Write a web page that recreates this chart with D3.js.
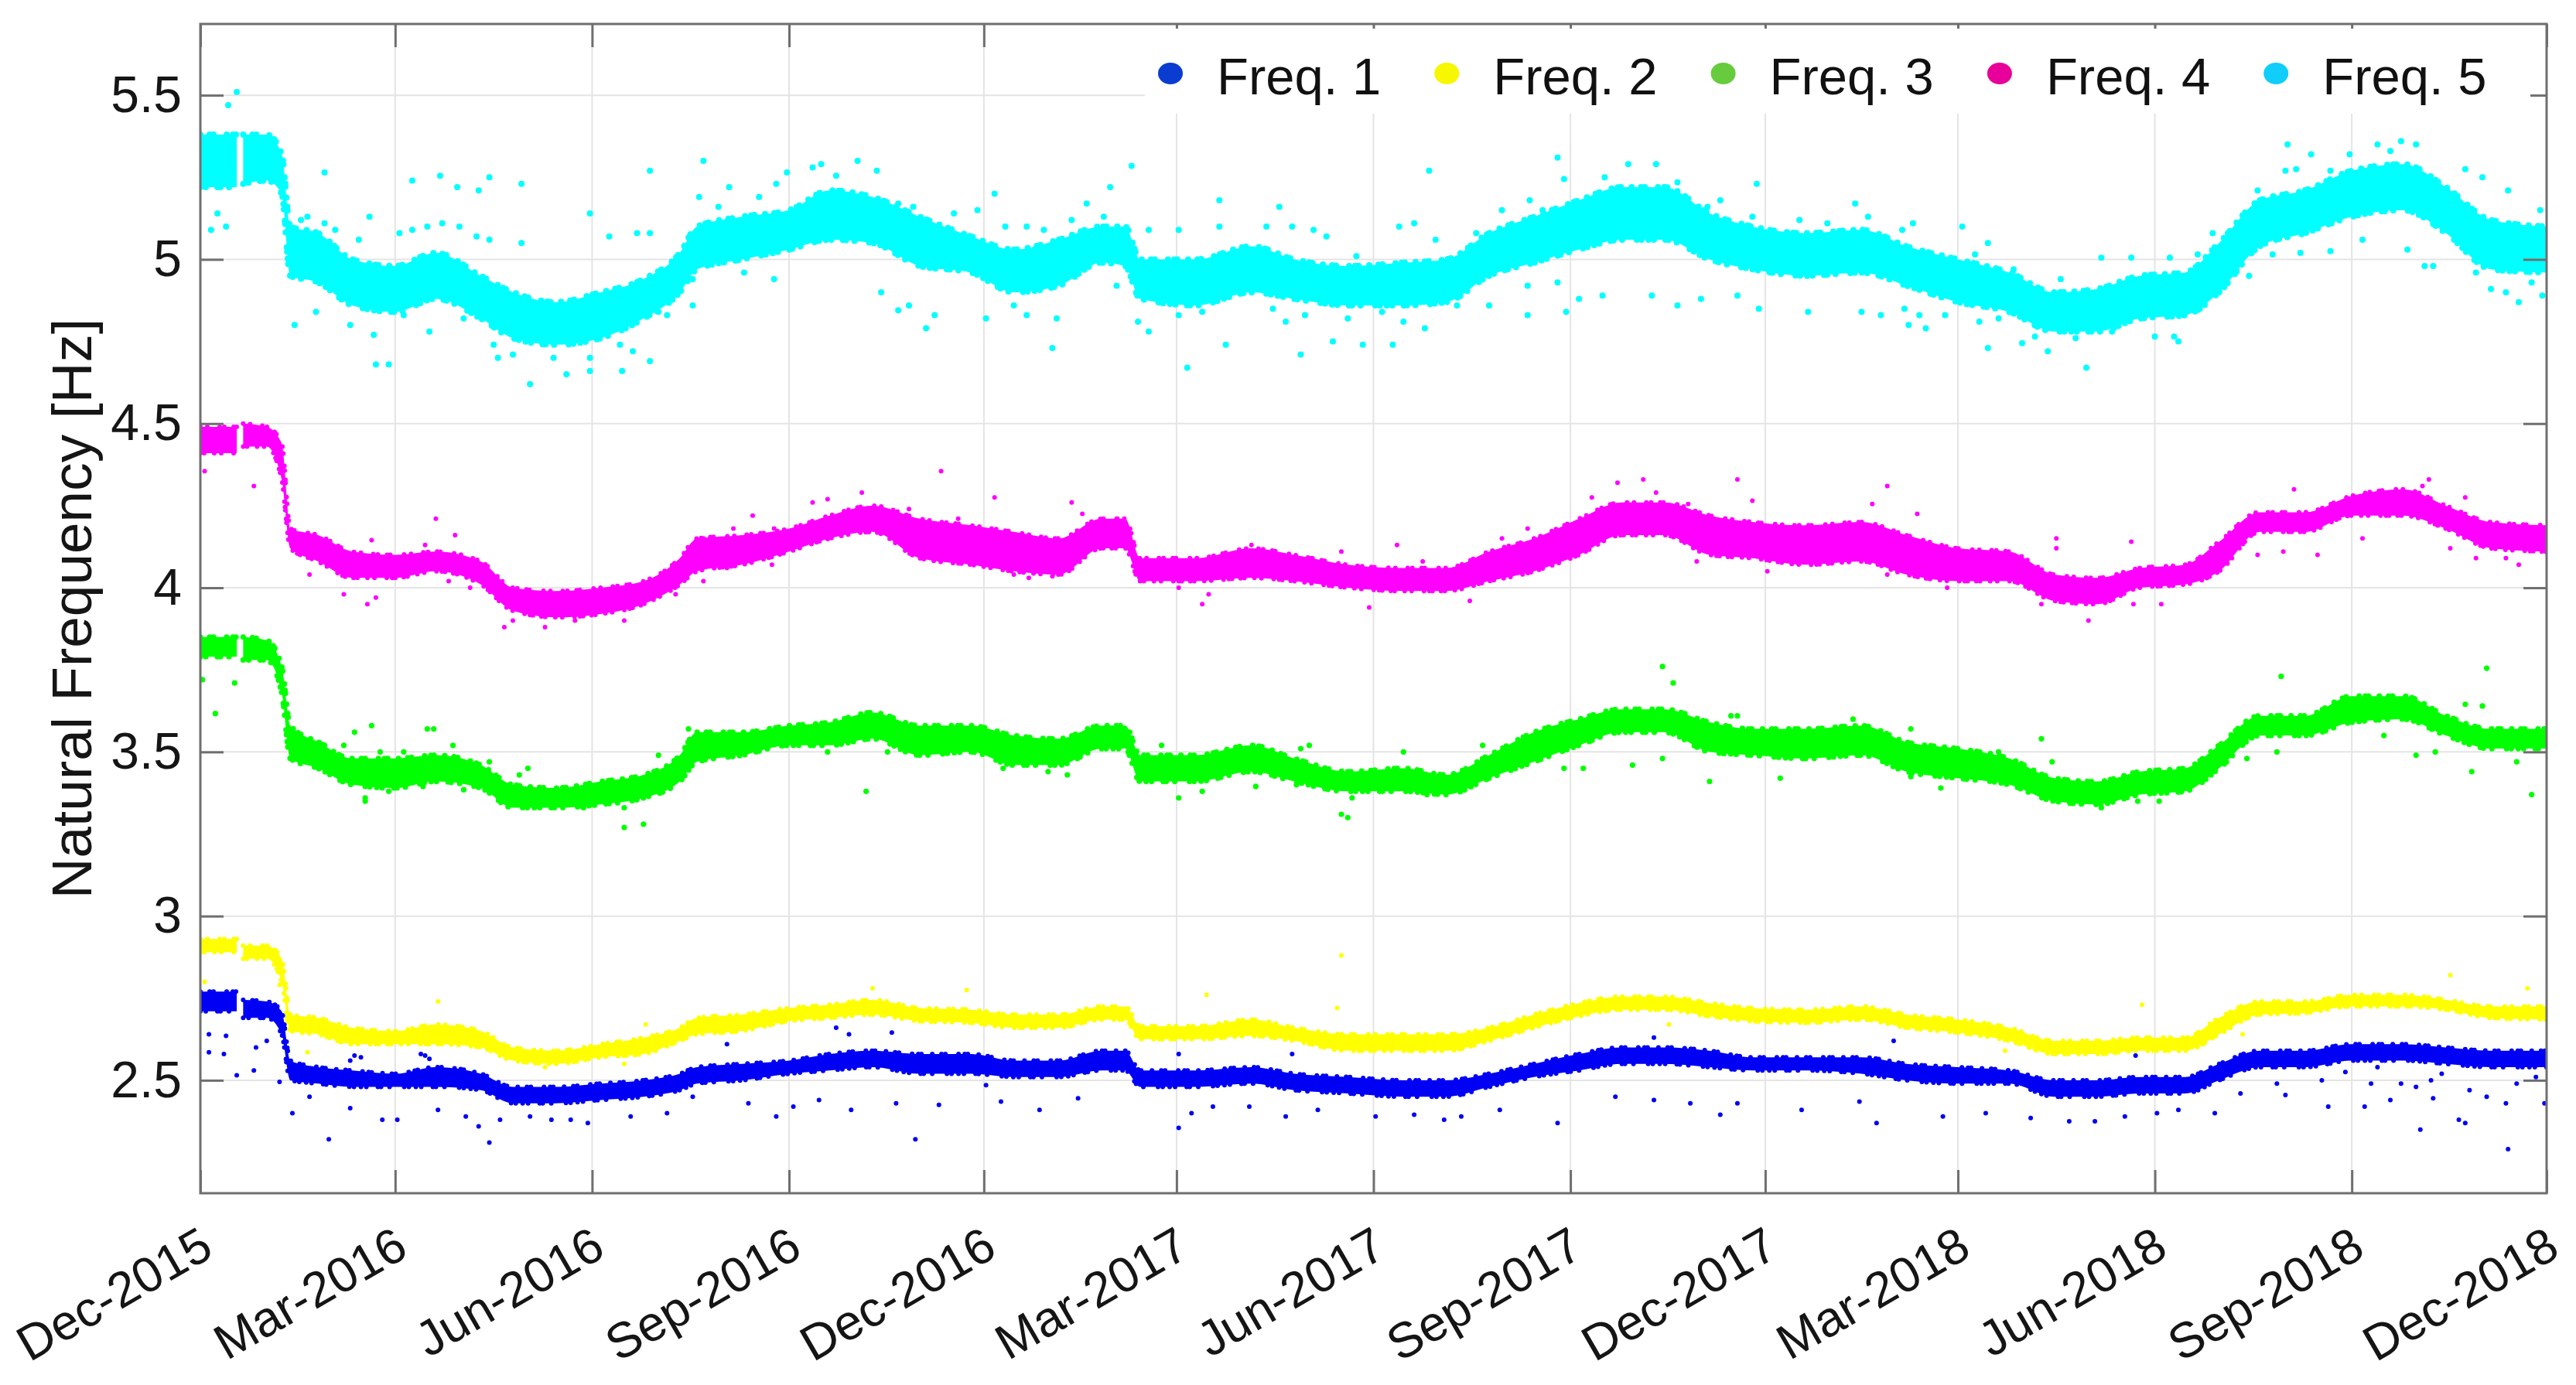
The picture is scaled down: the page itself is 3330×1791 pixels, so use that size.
<!DOCTYPE html>
<html>
<head>
<meta charset="utf-8">
<script src="https://d3js.org/d3.v7.min.js"></script>
<style>
  body { margin: 0; background: #fff; }
  text { font-family: "Liberation Sans", Arial, sans-serif; }
</style>
</head>
<body>
<div id="chart"></div>
<script>
// Step 1: data
//= ================================
var seriesNames = ["Freq. 1", "Freq. 2", "Freq. 3", "Freq. 4", "Freq. 5"];
var xTickDates = ["2015-12-01", "2016-03-01", "2016-06-01", "2016-09-01", "2016-12-01", "2017-03-01", "2017-06-01",
  "2017-09-01", "2017-12-01", "2018-03-01", "2018-06-01", "2018-09-01", "2018-12-01"];
var yTicks = [2.5, 3, 3.5, 4, 4.5, 5, 5.5];

// dates at which the lower / upper edge of each dense band was read (null = no data)
var sampleDates = [
  "2015-12-01", "2015-12-18", "2015-12-19", "2015-12-21", "2016-01-01", "2016-01-08", "2016-01-12", "2016-01-25", "2016-02-10", "2016-03-01",
  "2016-03-20", "2016-04-10", "2016-04-25", "2016-05-15", "2016-06-05", "2016-06-25", "2016-07-12", "2016-07-20", "2016-08-10", "2016-09-01",
  "2016-09-20", "2016-10-10", "2016-11-01", "2016-11-25", "2016-12-15", "2017-01-05", "2017-01-25", "2017-02-05", "2017-02-12", "2017-03-10",
  "2017-04-05", "2017-04-25", "2017-05-20", "2017-06-15", "2017-07-05", "2017-07-25", "2017-08-15", "2017-09-05", "2017-09-25", "2017-10-15",
  "2017-11-05", "2017-11-25", "2017-12-20", "2018-01-15", "2018-02-05", "2018-03-01", "2018-03-25", "2018-04-15", "2018-05-05", "2018-05-25",
  "2018-06-15", "2018-07-01", "2018-07-20", "2018-08-10", "2018-09-01", "2018-09-25", "2018-10-15", "2018-11-05", "2018-12-01"
];

var f1Lo = [2.71, 2.71, null, 2.69, 2.69, 2.64, 2.50, 2.49, 2.48, 2.48,
  2.48, 2.47, 2.43, 2.43, 2.44, 2.45, 2.47, 2.49, 2.50, 2.52,
  2.53, 2.54, 2.52, 2.52, 2.51, 2.51, 2.53, 2.53, 2.48, 2.48,
  2.49, 2.47, 2.46, 2.45, 2.45, 2.48, 2.51, 2.53, 2.55, 2.55,
  2.54, 2.53, 2.53, 2.52, 2.50, 2.49, 2.49, 2.45, 2.45, 2.46,
  2.46, 2.50, 2.54, 2.54, 2.56, 2.56, 2.55, 2.54, 2.54];
var f1Hi = [2.77, 2.77, null, 2.745, 2.74, 2.71, 2.56, 2.54, 2.53, 2.52,
  2.54, 2.52, 2.48, 2.48, 2.49, 2.50, 2.52, 2.54, 2.55, 2.56,
  2.58, 2.59, 2.58, 2.58, 2.56, 2.56, 2.59, 2.59, 2.53, 2.53,
  2.54, 2.52, 2.51, 2.50, 2.50, 2.52, 2.55, 2.58, 2.60, 2.60,
  2.59, 2.57, 2.57, 2.57, 2.55, 2.54, 2.53, 2.50, 2.50, 2.51,
  2.51, 2.55, 2.59, 2.59, 2.61, 2.61, 2.60, 2.59, 2.59];

var f2Lo = [2.89, 2.89, null, 2.87, 2.87, 2.80, 2.65, 2.64, 2.61, 2.61,
  2.61, 2.60, 2.56, 2.55, 2.57, 2.58, 2.62, 2.64, 2.65, 2.68,
  2.69, 2.70, 2.68, 2.675, 2.66, 2.66, 2.685, 2.685, 2.625, 2.625,
  2.635, 2.62, 2.59, 2.59, 2.59, 2.62, 2.66, 2.695, 2.715, 2.715,
  2.695, 2.68, 2.675, 2.685, 2.66, 2.645, 2.62, 2.58, 2.58, 2.59,
  2.59, 2.64, 2.70, 2.705, 2.725, 2.725, 2.715, 2.69, 2.685];
var f2Hi = [2.93, 2.93, null, 2.91, 2.91, 2.87, 2.70, 2.69, 2.66, 2.65,
  2.67, 2.65, 2.60, 2.59, 2.61, 2.63, 2.66, 2.69, 2.70, 2.72,
  2.73, 2.745, 2.72, 2.715, 2.70, 2.70, 2.725, 2.725, 2.665, 2.665,
  2.685, 2.66, 2.64, 2.64, 2.64, 2.66, 2.70, 2.735, 2.755, 2.755,
  2.735, 2.72, 2.715, 2.725, 2.70, 2.685, 2.66, 2.62, 2.62, 2.63,
  2.63, 2.69, 2.74, 2.74, 2.76, 2.76, 2.745, 2.725, 2.725];

var f3Lo = [3.79, 3.79, null, 3.78, 3.78, 3.68, 3.48, 3.45, 3.40, 3.39,
  3.41, 3.39, 3.33, 3.33, 3.34, 3.36, 3.41, 3.47, 3.49, 3.52,
  3.52, 3.54, 3.49, 3.50, 3.46, 3.46, 3.51, 3.51, 3.41, 3.41,
  3.44, 3.41, 3.38, 3.38, 3.37, 3.42, 3.47, 3.52, 3.56, 3.56,
  3.50, 3.49, 3.48, 3.49, 3.44, 3.42, 3.40, 3.35, 3.34, 3.37,
  3.38, 3.45, 3.55, 3.55, 3.59, 3.60, 3.55, 3.51, 3.51];
var f3Hi = [3.85, 3.85, null, 3.85, 3.84, 3.76, 3.58, 3.53, 3.48, 3.48,
  3.49, 3.46, 3.40, 3.39, 3.41, 3.43, 3.49, 3.56, 3.56, 3.58,
  3.59, 3.62, 3.58, 3.58, 3.55, 3.54, 3.58, 3.58, 3.49, 3.49,
  3.52, 3.48, 3.44, 3.45, 3.43, 3.49, 3.56, 3.60, 3.63, 3.63,
  3.59, 3.57, 3.57, 3.58, 3.53, 3.51, 3.48, 3.42, 3.41, 3.44,
  3.45, 3.52, 3.61, 3.61, 3.67, 3.67, 3.61, 3.57, 3.57];

var f4Lo = [4.41, 4.41, null, 4.43, 4.43, 4.33, 4.12, 4.08, 4.03, 4.03,
  4.05, 4.01, 3.93, 3.91, 3.92, 3.95, 4.01, 4.05, 4.07, 4.11,
  4.15, 4.17, 4.09, 4.07, 4.05, 4.04, 4.12, 4.12, 4.02, 4.02,
  4.03, 4.02, 4.00, 3.99, 3.99, 4.02, 4.05, 4.10, 4.16, 4.16,
  4.10, 4.09, 4.07, 4.08, 4.04, 4.02, 4.02, 3.96, 3.95, 4.00,
  4.01, 4.05, 4.17, 4.17, 4.22, 4.22, 4.18, 4.12, 4.11];
var f4Hi = [4.49, 4.49, null, 4.50, 4.49, 4.44, 4.18, 4.16, 4.11, 4.10,
  4.11, 4.08, 4.00, 3.99, 4.00, 4.02, 4.09, 4.15, 4.16, 4.18,
  4.22, 4.25, 4.21, 4.19, 4.17, 4.15, 4.21, 4.21, 4.09, 4.09,
  4.12, 4.10, 4.07, 4.06, 4.06, 4.11, 4.15, 4.21, 4.26, 4.26,
  4.22, 4.20, 4.19, 4.20, 4.16, 4.12, 4.11, 4.04, 4.03, 4.06,
  4.07, 4.14, 4.23, 4.23, 4.28, 4.30, 4.25, 4.20, 4.19];

var f5Lo = [5.22, 5.22, null, 5.23, 5.24, 5.20, 4.95, 4.93, 4.86, 4.84,
  4.88, 4.82, 4.76, 4.74, 4.76, 4.82, 4.90, 4.97, 5.00, 5.03,
  5.06, 5.05, 4.98, 4.96, 4.90, 4.92, 4.99, 4.98, 4.88, 4.86,
  4.90, 4.88, 4.86, 4.86, 4.87, 4.95, 4.99, 5.03, 5.06, 5.06,
  5.00, 4.97, 4.95, 4.96, 4.92, 4.87, 4.84, 4.78, 4.78, 4.82,
  4.83, 4.90, 5.04, 5.08, 5.13, 5.15, 5.08, 4.97, 4.96];
var f5Hi = [5.38, 5.38, null, 5.38, 5.38, 5.32, 5.10, 5.08, 5.00, 4.98,
  5.02, 4.95, 4.90, 4.87, 4.90, 4.94, 5.02, 5.10, 5.13, 5.15,
  5.21, 5.19, 5.13, 5.07, 5.03, 5.06, 5.10, 5.10, 5.00, 5.00,
  5.04, 5.00, 4.98, 4.99, 5.00, 5.08, 5.13, 5.18, 5.22, 5.22,
  5.14, 5.10, 5.08, 5.09, 5.04, 5.00, 4.96, 4.90, 4.91, 4.95,
  4.96, 5.05, 5.18, 5.21, 5.27, 5.29, 5.22, 5.12, 5.10];

// scattered points away from the bands: [days after 1 Dec 2015, Hz]
var f1Pts = [[4, 2.64], [4, 2.585], [11, 2.58], [12, 2.635], [17, 2.515], [25, 2.53], [26, 2.60], [31, 2.62], [37, 2.495], [43, 2.40],
  [51, 2.45], [60, 2.32], [70, 2.415], [70, 2.56], [72, 2.575], [75, 2.57], [85, 2.38], [92, 2.38], [103, 2.58], [105, 2.575],
  [107, 2.565], [111, 2.41], [124, 2.39], [130, 2.36], [135, 2.31], [140, 2.38], [154, 2.39], [164, 2.38], [173, 2.38], [181, 2.37],
  [201, 2.39], [218, 2.40], [230, 2.45], [246, 2.61], [256, 2.43], [269, 2.39], [277, 2.42], [289, 2.44], [297, 2.66], [303, 2.64],
  [304, 2.41], [323, 2.645], [325, 2.43], [334, 2.32], [345, 2.425], [367, 2.485], [374, 2.435], [392, 2.41], [410, 2.445], [457, 2.355],
  [457, 2.58], [463, 2.40], [473, 2.42], [490, 2.42], [507, 2.39], [510, 2.58], [522, 2.41], [549, 2.39], [567, 2.395], [581, 2.38],
  [589, 2.39], [607, 2.41], [634, 2.37], [661, 2.45], [679, 2.44], [679, 2.63], [696, 2.43], [710, 2.395], [718, 2.43], [748, 2.41],
  [775, 2.435], [783, 2.37], [791, 2.62], [814, 2.39], [834, 2.40], [855, 2.385], [873, 2.375], [885, 2.375], [899, 2.39], [904, 2.575],
  [914, 2.40], [924, 2.41], [941, 2.40], [953, 2.46], [970, 2.49], [974, 2.455], [991, 2.50], [994, 2.42], [1002, 2.525], [1011, 2.42],
  [1014, 2.49], [1017, 2.54], [1023, 2.44], [1028, 2.49], [1035, 2.48], [1037, 2.35], [1042, 2.50], [1043, 2.445], [1047, 2.52], [1055, 2.38],
  [1058, 2.37], [1060, 2.47], [1068, 2.45], [1077, 2.43], [1078, 2.29], [1082, 2.49], [1091, 2.51], [1095, 2.43]];
var f2Pts = [[2, 2.80], [37, 2.79], [50, 2.585], [111, 2.74], [161, 2.54], [198, 2.55], [208, 2.67], [314, 2.78], [358, 2.775], [470, 2.76],
  [531, 2.72], [533, 2.88], [686, 2.67], [843, 2.59], [907, 2.73], [954, 2.64], [1051, 2.82], [1087, 2.78]];
var f3Pts = [[1, 3.72], [7, 3.617], [16, 3.71], [77, 3.35], [80, 3.58], [106, 3.57], [153, 3.45], [198, 3.27], [207, 3.28], [293, 3.50],
  [311, 3.38], [457, 3.36], [518, 3.52], [533, 3.31], [536, 3.30], [637, 3.45], [646, 3.45], [683, 3.76], [688, 3.71], [705, 3.41],
  [738, 3.42], [860, 3.54], [905, 3.35], [972, 3.73], [1061, 3.44], [1068, 3.755], [1089, 3.37],
  [58, 3.52], [67, 3.52], [72, 3.56], [84, 3.50], [95, 3.50], [109, 3.57], [118, 3.52], [135, 3.47], [149, 3.43], [179, 3.33],
  [198, 3.33], [214, 3.49], [228, 3.57], [88, 3.38], [77, 3.36], [104, 3.395], [123, 3.385], [321, 3.50], [375, 3.45], [396, 3.44],
  [405, 3.43], [449, 3.52], [468, 3.38], [493, 3.395], [512, 3.40], [514, 3.51], [538, 3.36], [562, 3.50], [573, 3.37], [599, 3.52],
  [669, 3.46], [683, 3.48], [715, 3.61], [718, 3.61], [772, 3.60], [799, 3.57], [799, 3.425], [813, 3.39], [840, 3.50], [865, 3.47],
  [888, 3.33], [915, 3.35], [956, 3.48], [970, 3.50], [1020, 3.55], [1035, 3.49], [1044, 3.50], [1058, 3.645], [1066, 3.64], [1082, 3.47]];
var f4Pts = [[2, 4.355], [25, 4.31], [78, 3.95], [80, 4.145], [110, 4.21], [119, 4.16], [142, 3.88], [161, 3.88], [222, 3.98], [258, 4.22],
  [309, 4.29], [346, 4.355], [371, 4.275], [387, 4.03], [407, 4.26], [468, 3.95], [546, 3.94], [559, 4.13], [593, 3.96], [674, 4.33],
  [718, 4.33], [788, 4.31], [867, 4.15], [867, 4.12], [882, 3.90], [902, 4.14], [978, 4.30], [1041, 4.33], [1083, 4.07],
  [51, 4.04], [67, 3.98], [82, 3.97], [105, 4.13], [116, 4.02], [126, 4.00], [146, 3.90], [175, 3.90], [198, 3.90], [235, 4.02],
  [246, 4.06], [267, 4.07], [235, 4.15], [249, 4.18], [268, 4.18], [286, 4.26], [293, 4.27], [331, 4.24], [354, 4.21], [380, 4.04],
  [398, 4.035], [412, 4.225], [428, 4.21], [457, 4.00], [471, 3.98], [491, 4.13], [519, 4.09], [533, 4.11], [571, 4.08], [608, 4.15],
  [620, 4.18], [650, 4.275], [662, 4.32], [680, 4.29], [695, 4.255], [725, 4.265], [781, 4.255], [802, 4.225], [699, 4.08], [732, 4.05],
  [788, 4.04], [816, 4.00], [860, 3.95], [903, 3.95], [916, 3.95], [961, 4.10], [973, 4.11], [989, 4.10], [1010, 4.15], [1051, 4.12],
  [1063, 4.09], [1077, 4.09], [1038, 4.31], [1058, 4.275]];
var f5Pts = [[5, 5.09], [8, 5.14], [12, 5.10], [13, 5.47], [17, 5.51], [44, 4.80], [54, 4.84], [58, 5.265], [79, 5.13], [82, 4.68],
  [88, 4.68], [99, 5.24], [112, 5.255], [120, 5.22], [130, 5.21], [135, 5.25], [139, 4.70], [150, 5.23], [154, 4.62], [171, 4.65],
  [182, 5.14], [182, 4.66], [197, 4.66], [210, 5.27], [210, 4.69], [230, 4.86], [235, 5.30], [290, 5.29], [307, 5.30], [339, 4.79],
  [371, 5.20], [398, 4.73], [425, 5.22], [435, 5.285], [443, 4.78], [461, 4.67], [476, 5.18], [479, 4.74], [504, 5.16], [514, 4.71],
  [543, 4.74], [557, 4.74], [572, 4.79], [574, 5.27], [620, 4.83], [634, 5.31], [638, 4.84], [667, 5.29], [690, 4.86], [727, 5.23],
  [773, 5.17], [798, 4.80], [806, 4.79], [835, 4.73], [863, 4.72], [881, 4.67], [924, 4.75], [957, 4.95], [975, 5.35], [986, 5.32],
  [1017, 5.35], [1028, 5.36], [1039, 4.98], [1078, 5.21], [1083, 4.87], [1094, 4.89],
  [47, 5.12], [50, 5.13], [58, 5.11], [63, 5.09], [74, 5.06], [93, 5.08], [99, 5.09], [106, 5.10], [113, 5.11], [121, 5.10],
  [129, 5.07], [135, 5.06], [150, 5.05], [191, 5.07], [204, 5.08], [210, 5.08], [233, 5.19], [242, 5.16], [247, 5.22], [261, 5.19],
  [269, 5.23], [274, 5.265], [70, 4.80], [81, 4.77], [95, 4.83], [107, 4.78], [123, 4.82], [137, 4.74], [146, 4.71], [165, 4.70],
  [182, 4.70], [196, 4.74], [202, 4.72], [214, 4.84], [218, 4.83], [230, 4.94], [254, 4.96], [268, 4.94],
  [286, 5.28], [297, 5.255], [316, 5.27], [326, 5.17], [333, 5.16], [352, 5.14], [363, 5.15], [376, 5.10], [386, 5.10], [394, 5.09],
  [407, 5.12], [414, 5.17], [422, 5.13], [443, 5.09], [457, 5.09], [476, 5.10], [498, 5.10], [510, 5.10], [520, 5.09], [526, 5.07],
  [540, 5.01], [318, 4.90], [326, 4.845], [331, 4.86], [343, 4.83], [367, 4.82], [380, 4.86], [386, 4.83], [400, 4.82], [428, 4.92],
  [438, 4.81], [457, 4.83], [468, 4.84], [501, 4.85], [507, 4.81], [516, 4.83], [529, 4.75], [536, 4.82],
  [560, 5.10], [567, 5.11], [577, 5.06], [596, 5.08], [608, 5.15], [621, 5.18], [627, 5.15], [637, 5.245], [656, 5.25], [680, 5.29],
  [690, 5.235], [704, 5.16], [710, 5.18], [725, 5.13], [747, 5.12], [760, 5.11], [779, 5.13], [795, 5.09], [800, 5.11], [823, 5.10],
  [552, 4.84], [562, 4.81], [587, 4.86], [602, 4.86], [620, 4.92], [634, 4.93], [644, 4.88], [655, 4.89], [678, 4.89], [701, 4.88],
  [718, 4.89], [728, 4.85], [751, 4.84], [776, 4.84], [785, 4.83], [796, 4.85], [803, 4.83], [815, 4.83],
  [829, 5.015], [835, 5.05], [847, 4.97], [869, 4.94], [888, 5.005], [902, 5.005], [920, 5.005], [933, 5.015], [940, 5.08], [961, 5.21],
  [974, 5.27], [979, 5.275], [995, 5.27], [1004, 5.32], [1023, 5.33], [1035, 5.35], [1058, 5.275], [1066, 5.25], [1093, 5.15],
  [831, 4.81], [840, 4.82], [851, 4.745], [857, 4.765], [876, 4.76], [893, 4.78], [913, 4.765], [922, 4.765], [934, 4.85], [945, 4.92],
  [968, 5.015], [981, 5.02], [995, 5.025], [1010, 5.06], [1031, 5.03], [1043, 4.98], [1063, 4.96], [1070, 4.91], [1077, 4.90], [1089, 4.93]];

var dataColors = ["#0000f5", "#ffff00", "#00ff00", "#ff00ff", "#00ffff"];
var keyColors = ["#0a3ccf", "#f7f700", "#66cc3d", "#e8009a", "#10cdfa"];
var dotRadius = [3, 3, 3.6, 3, 4];

// Step 2: set up the chart
//= ================================
var svgWidth = 3330;
var svgHeight = 1791;
var margin = { top: 31, right: 38, bottom: 248, left: 259 };
var width = svgWidth - margin.left - margin.right;
var height = svgHeight - margin.top - margin.bottom;

var svg = d3.select("#chart").append("svg")
  .attr("width", svgWidth)
  .attr("height", svgHeight);

var chartGroup = svg.append("g")
  .attr("transform", `translate(${margin.left}, ${margin.top})`);

var parseDate = d3.utcParse("%Y-%m-%d");
var start = parseDate(xTickDates[0]);
var xTicks = xTickDates.map(parseDate);

var x = d3.scaleUtc()
  .domain([start, xTicks[xTicks.length - 1]])
  .range([0, width]);

var y = d3.scaleLinear()
  .domain([2.156, 5.717])
  .range([height, 0]);

svg.append("defs").append("clipPath").attr("id", "plotClip")
  .append("rect").attr("width", width).attr("height", height);

// grid
var grid = chartGroup.append("g").attr("stroke", "#e4e4e4").attr("stroke-width", 2);
grid.selectAll(".gx").data(xTicks).enter().append("line")
  .attr("x1", d => x(d)).attr("x2", d => x(d))
  .attr("y1", 0).attr("y2", height);
grid.selectAll(".gy").data(yTicks).enter().append("line")
  .attr("x1", 0).attr("x2", width)
  .attr("y1", d => y(d)).attr("y2", d => y(d));

// Step 3: the data clouds
//= ================================
var series = [
  { lo: f1Lo, hi: f1Hi, pts: f1Pts },
  { lo: f2Lo, hi: f2Hi, pts: f2Pts },
  { lo: f3Lo, hi: f3Hi, pts: f3Pts },
  { lo: f4Lo, hi: f4Hi, pts: f4Pts },
  { lo: f5Lo, hi: f5Hi, pts: f5Pts }
];

var area = d3.area()
  .defined(d => d.lo != null)
  .x(d => x(d.date))
  .y0(d => y(d.lo))
  .y1(d => y(d.hi))
  .curve(d3.curveMonotoneX);

var edge = function (key) {
  return d3.line()
    .defined(d => d[key] != null)
    .x(d => x(d.date))
    .y(d => y(d[key]))
    .curve(d3.curveMonotoneX);
};

// uneven spacing for the beads along the band edges
var edgeDash = [["0 7 0 15 0 4 0 11 0 19 0 6 0 9", "0 12 0 5 0 17 0 8 0 4 0 14"],
  ["0 5 0 13 0 9 0 16 0 7 0 4 0 11", "0 9 0 16 0 6 0 12 0 4 0 18"]];

var dataLayer = chartGroup.append("g").attr("clip-path", "url(#plotClip)");

series.forEach(function (s, i) {
  var rows = sampleDates.map(function (ds, j) {
    return { date: parseDate(ds), lo: s.lo[j], hi: s.hi[j] };
  });
  var g = dataLayer.append("g");

  g.append("path")
    .datum(rows)
    .attr("d", area)
    .attr("fill", dataColors[i]);

  // beaded edges so the bands read as dense scatter
  ["lo", "hi"].forEach(function (k, e) {
    g.append("path")
      .datum(rows)
      .attr("d", edge(k))
      .attr("fill", "none")
      .attr("stroke", dataColors[i])
      .attr("stroke-width", dotRadius[i] * 2)
      .attr("stroke-linecap", "round")
      .attr("stroke-dasharray", edgeDash[i % 2][e]);
  });

  g.selectAll("circle")
    .data(s.pts)
    .enter()
    .append("circle")
    .attr("cx", d => x(d3.utcDay.offset(start, d[0])))
    .attr("cy", d => y(d[1]))
    .attr("r", dotRadius[i])
    .attr("fill", dataColors[i]);
});

// Step 4: axes and box
//= ================================
var axisColor = "#6f6f6f";
var tickLen = 30;

var xAxis = chartGroup.append("g")
  .attr("transform", "translate(0," + height + ")")
  .call(d3.axisBottom(x).tickValues(xTicks).tickSizeInner(-tickLen).tickSizeOuter(0)
    .tickFormat(d3.utcFormat("%b-%Y")));
xAxis.selectAll("text")
  .attr("x", 0)
  .attr("y", 0)
  .attr("dy", "0.72em")
  .attr("text-anchor", "end")
  .attr("transform", "translate(-4,40) rotate(-30)");

chartGroup.append("g")
  .call(d3.axisLeft(y).tickValues(yTicks).tickSizeInner(-tickLen).tickSizeOuter(0)
    .tickPadding(24).tickFormat(d3.format("~g")));

chartGroup.append("g")
  .call(d3.axisTop(x).tickValues(xTicks).tickSizeInner(-tickLen).tickSizeOuter(0).tickFormat(""));
chartGroup.append("g")
  .attr("transform", "translate(" + width + ",0)")
  .call(d3.axisRight(y).tickValues(yTicks).tickSizeInner(-tickLen).tickSizeOuter(0).tickFormat(""));

chartGroup.selectAll(".domain").remove();
chartGroup.selectAll(".tick line")
  .attr("stroke", axisColor)
  .attr("stroke-width", 3);
chartGroup.selectAll(".tick text")
  .attr("fill", "#151515")
  .attr("font-family", "'Liberation Sans', Arial, sans-serif")
  .attr("font-size", "66px");
xAxis.selectAll("text").attr("font-size", "64px");

chartGroup.append("rect")
  .attr("width", width)
  .attr("height", height)
  .attr("fill", "none")
  .attr("stroke", axisColor)
  .attr("stroke-width", 3);

svg.append("text")
  .attr("transform", "translate(118," + (margin.top + height / 2) + ") rotate(-90)")
  .attr("text-anchor", "middle")
  .attr("fill", "#151515")
  .attr("font-size", "73px")
  .text("Natural Frequency [Hz]");

// Step 5: legend
//= ================================
var legend = svg.append("g");
legend.append("rect")
  .attr("x", 1480)
  .attr("y", 37)
  .attr("width", 1791)
  .attr("height", 110)
  .attr("fill", "#fff");

var item = legend.selectAll(".item")
  .data(seriesNames)
  .enter()
  .append("g")
  .attr("transform", (d, i) => "translate(" + (1513 + i * 357.3) + ",0)");

item.append("ellipse")
  .attr("cx", 0)
  .attr("cy", 95)
  .attr("rx", 16)
  .attr("ry", 14)
  .attr("fill", (d, i) => keyColors[i]);

item.append("text")
  .attr("x", 60)
  .attr("y", 122)
  .attr("fill", "#111")
  .attr("font-size", "67px")
  .text(d => d);
</script>
</body>
</html>
